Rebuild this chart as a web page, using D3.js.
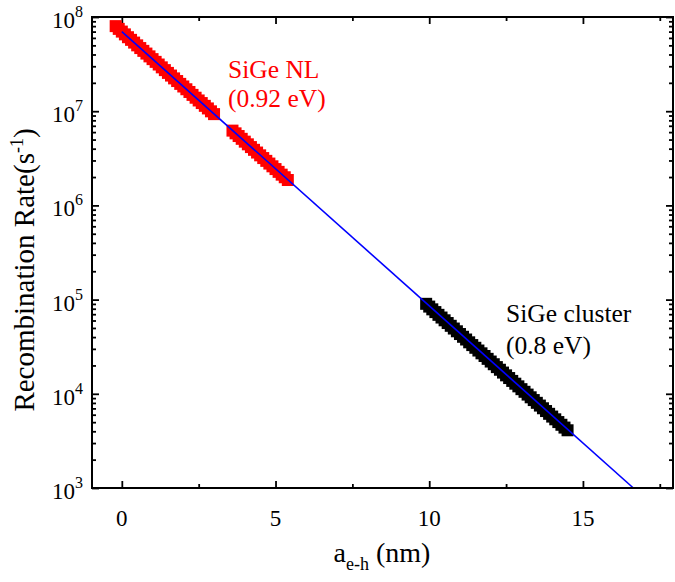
<!DOCTYPE html>
<meta charset="utf-8">
<style>
body { margin: 0; background: #fff; }
text { font-family: "Liberation Serif", "Times New Roman", serif; }
</style>
<script src="https://d3js.org/d3.v7.min.js"></script>
<div id="chart"></div>
<script>

// SiGe NL (0.92 eV) - red squares, two pieces
var nlX1 = [-0.2, -0.1, 0.0, 0.1, 0.2, 0.3, 0.4, 0.5, 0.6, 0.7, 0.8, 0.9, 1.0, 1.1, 1.2, 1.3, 1.4, 1.5,
            1.6, 1.7, 1.8, 1.9, 2.0, 2.1, 2.2, 2.3, 2.4, 2.5, 2.6, 2.7, 2.8, 2.9, 3.0];
var nlY1 = [8.0e7, 7.48e7, 7.0e7, 6.54e7, 6.1e7, 5.72e7, 5.35e7, 5.00e7, 4.68e7, 4.37e7, 4.09e7, 3.82e7,
            3.57e7, 3.34e7, 3.13e7, 2.92e7, 2.73e7, 2.55e7, 2.39e7, 2.23e7, 2.09e7, 1.95e7, 1.83e7, 1.71e7,
            1.60e7, 1.49e7, 1.39e7, 1.30e7, 1.22e7, 1.14e7, 1.07e7, 9.97e6, 9.31e6];
var nlX2 = [3.6, 3.7, 3.8, 3.9, 4.0, 4.1, 4.2, 4.3, 4.4, 4.5, 4.6, 4.7, 4.8, 4.9, 5.0, 5.1, 5.2, 5.3, 5.4];
var nlY2 = [6.22e6, 5.82e6, 5.45e6, 5.09e6, 4.75e6, 4.45e6, 4.16e6, 3.89e6, 3.64e6, 3.40e6, 3.18e6,
            2.97e6, 2.78e6, 2.60e6, 2.43e6, 2.27e6, 2.12e6, 1.99e6, 1.86e6];

// SiGe cluster (0.8 eV) - black squares
var clX = [9.9, 10.0, 10.1, 10.2, 10.3, 10.4, 10.5, 10.6, 10.7, 10.8, 10.9, 11.0, 11.1, 11.2, 11.3, 11.4,
           11.5, 11.6, 11.7, 11.8, 11.9, 12.0, 12.1, 12.2, 12.3, 12.4, 12.5, 12.6, 12.7, 12.8, 12.9, 13.0,
           13.1, 13.2, 13.3, 13.4, 13.5, 13.6, 13.7, 13.8, 13.9, 14.0, 14.1, 14.2, 14.3, 14.4, 14.5];
var clY = [9.02e4, 8.43e4, 7.88e4, 7.37e4, 6.89e4, 6.45e4, 6.03e4, 5.64e4, 5.27e4, 4.93e4, 4.61e4, 4.31e4,
           4.03e4, 3.77e4, 3.52e4, 3.29e4, 3.08e4, 2.88e4, 2.69e4, 2.52e4, 2.35e4, 2.20e4, 2.06e4, 1.92e4,
           1.80e4, 1.68e4, 1.57e4, 1.47e4, 1.37e4, 1.28e4, 1.20e4, 1.12e4, 1.05e4, 9.81e3, 9.18e3, 8.58e3,
           8.02e3, 7.50e3, 7.02e3, 6.56e3, 6.13e3, 5.73e3, 5.36e3, 5.01e3, 4.69e3, 4.38e3, 4.10e3];

// fitted line (blue)
var fitX = [0, 16.64];
var fitY = [7.0e7, 1.0e3];

var xMajor = [0, 5, 10, 15];
var xMinor = [2.5, 7.5, 12.5, 17.5];
var yMajor = [1e3, 1e4, 1e5, 1e6, 1e7, 1e8];

var W = 675, H = 582;
var pL = 92, pR = 673, pT = 17, pB = 488;

var svg = d3.select("#chart").append("svg")
    .attr("width", W)
    .attr("height", H);

var x = d3.scaleLinear().domain([-0.97, 17.93]).range([pL, pR]);
var y = d3.scaleLog().domain([1e3, 1e8]).range([pB, pT]);

var yMinor = y.ticks().filter(function(v) { return yMajor.indexOf(v) < 0; });

// axes with inward ticks, mirrored on all sides
function addAxis(axisFn, scale, vals, size, tr) {
  var g = svg.append("g")
    .attr("transform", tr)
    .call(axisFn(scale).tickValues(vals).tickSize(-size).tickFormat(""));
  g.select(".domain").remove();
  g.selectAll(".tick line").attr("stroke", "#000").attr("stroke-width", 1.8);
}
addAxis(d3.axisBottom, x, xMajor, 7, "translate(0," + pB + ")");
addAxis(d3.axisBottom, x, xMinor, 4, "translate(0," + pB + ")");
addAxis(d3.axisTop, x, xMajor, 7, "translate(0," + pT + ")");
addAxis(d3.axisTop, x, xMinor, 4, "translate(0," + pT + ")");
addAxis(d3.axisLeft, y, yMajor, 7, "translate(" + pL + ",0)");
addAxis(d3.axisLeft, y, yMinor, 4, "translate(" + pL + ",0)");
addAxis(d3.axisRight, y, yMajor, 7, "translate(" + pR + ",0)");
addAxis(d3.axisRight, y, yMinor, 4, "translate(" + pR + ",0)");

// data squares
var sq = 12;
function squares(xs, ys, color) {
  svg.append("g").selectAll("rect")
    .data(xs.map(function(v, i) { return [v, ys[i]]; }))
    .enter().append("rect")
      .attr("x", function(d) { return x(d[0]) - sq / 2; })
      .attr("y", function(d) { return y(d[1]) - sq / 2; })
      .attr("width", sq)
      .attr("height", sq)
      .attr("fill", color);
}
squares(nlX1, nlY1, "#ff0000");
squares(nlX2, nlY2, "#ff0000");
squares(clX, clY, "#000000");

svg.append("path")
  .datum(fitX.map(function(v, i) { return [v, fitY[i]]; }))
  .attr("fill", "none")
  .attr("stroke", "#0000ff")
  .attr("stroke-width", 1.6)
  .attr("d", d3.line().x(function(d) { return x(d[0]); }).y(function(d) { return y(d[1]); }));

// frame
svg.append("rect")
  .attr("x", pL).attr("y", pT)
  .attr("width", pR - pL).attr("height", pB - pT)
  .attr("fill", "none").attr("stroke", "#000").attr("stroke-width", 2);

// tick labels
svg.append("g").selectAll("text")
  .data(xMajor).enter().append("text")
    .attr("x", function(d) { return x(d); })
    .attr("y", pB + 38)
    .attr("text-anchor", "middle")
    .attr("font-size", 23)
    .text(function(d) { return d; });

var yl = svg.append("g").selectAll("text")
  .data(yMajor).enter().append("text")
    .attr("x", 83)
    .attr("y", function(d) { return y(d) + 11; })
    .attr("text-anchor", "end")
    .attr("font-size", 23);
yl.append("tspan").text("10");
yl.append("tspan").attr("dy", -11).attr("font-size", 16)
  .text(function(d) { return Math.round(Math.log10(d)); });

// axis titles
var xt = svg.append("text")
  .attr("x", 382).attr("y", 562)
  .attr("text-anchor", "middle")
  .attr("font-size", 28);
xt.append("tspan").text("a");
xt.append("tspan").attr("dy", 8).attr("font-size", 18).text("e-h");
xt.append("tspan").attr("dy", -8).text(" (nm)");

var yt = svg.append("text")
  .attr("transform", "translate(34,270) rotate(-90)")
  .attr("text-anchor", "middle")
  .attr("font-size", 29);
yt.append("tspan").text("Recombination Rate(s");
yt.append("tspan").attr("dy", -11).attr("font-size", 18).text("-1");
yt.append("tspan").attr("dy", 11).text(")");

// annotations
var ann = [
  {t: "SiGe NL", x: 228, y: 78, c: "#ff0000"},
  {t: "(0.92 eV)", x: 228, y: 107, c: "#ff0000"},
  {t: "SiGe cluster", x: 506, y: 322, c: "#000000"},
  {t: "(0.8 eV)", x: 506, y: 354, c: "#000000"}
];
svg.append("g").selectAll("text")
  .data(ann).enter().append("text")
    .attr("x", function(d) { return d.x; })
    .attr("y", function(d) { return d.y; })
    .attr("fill", function(d) { return d.c; })
    .attr("font-size", 25.5)
    .text(function(d) { return d.t; });

</script>
